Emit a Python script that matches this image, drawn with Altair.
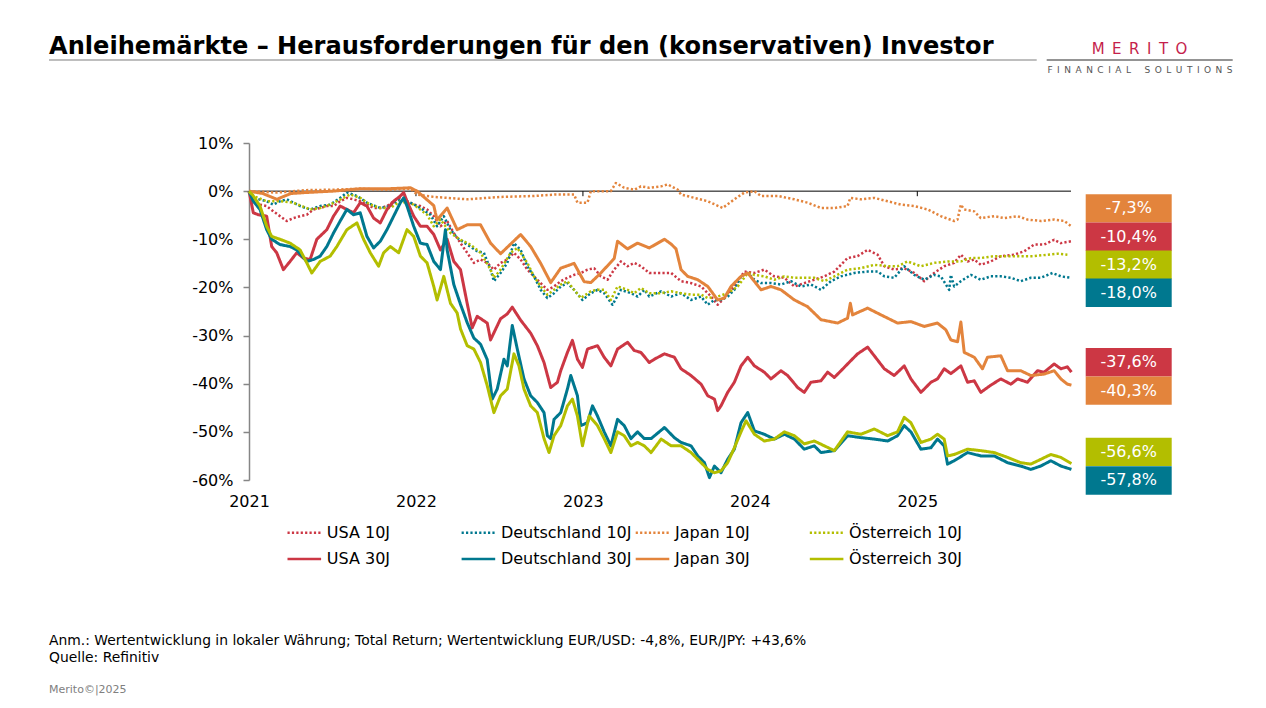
import altair as alt
import pandas as pd

# ---------------- data (months since Jan 2021, total return in %) ----------------
SERIES = ["USA 10J", "Deutschland 10J", "Japan 10J", "Österreich 10J",
          "USA 30J", "Deutschland 30J", "Japan 30J", "Österreich 30J"]
COLORS = ["#CC3744", "#00788F", "#E3843C", "#B3BE00",
          "#CC3744", "#00788F", "#E3843C", "#B3BE00"]

US10 = [(0, 0), (0.31, -1.7), (0.79, -2.8), (1.27, -3.1), (1.75, -4.2), (2.23, -5.2), (2.71, -6.2),
        (3.19, -5.6), (3.67, -5.2), (4.15, -4.9), (4.63, -3.8), (5.11, -3.5), (5.59, -3.1), (6.07, -3.1),
        (6.55, -2.1), (7.03, -1.4), (7.51, -1.7), (7.99, -2.1), (8.47, -2.8), (8.95, -3.5), (9.43, -3.5),
        (9.91, -3.1), (10.39, -2.1), (10.87, -1.4), (11.35, -2.1), (11.83, -2.8), (12.31, -3.1),
        (12.79, -3.8), (13.27, -5.2), (13.75, -7.3), (14.23, -6.2), (14.71, -8.7), (15.19, -10.8),
        (15.67, -12.8), (16.15, -14.9), (16.63, -14.2), (17.11, -14.9), (17.59, -16.3), (18.07, -14.9),
        (18.55, -14.2), (19.03, -12.8), (19.51, -14.2), (19.99, -16.3), (20.47, -17.7), (20.95, -19.1),
        (21.43, -20.5), (21.91, -19.8), (22.39, -18.7), (22.87, -18.0), (23.35, -17.4), (23.83, -17.0),
        (24.31, -16.3), (24.79, -16.0), (25.27, -17.7), (25.75, -18.4), (26.23, -16.3), (26.71, -14.6),
        (27.19, -15.6), (27.67, -14.9), (28.15, -15.6), (28.75, -17.0), (29.6, -17.0), (30.32, -17.0),
        (31.03, -18.7), (31.75, -19.1), (32.47, -19.8), (33.19, -21.9), (33.66, -23.6), (34.14, -22.2),
        (34.86, -19.8), (35.58, -16.7), (36.3, -17.0), (37.01, -16.3), (37.73, -17.7), (38.45, -18.0),
        (39.17, -19.8), (39.88, -19.1), (40.6, -18.4), (41.32, -17.7), (42.04, -16.7), (42.99, -13.9),
        (43.71, -13.5), (44.43, -12.2), (45.15, -13.2), (45.63, -15.6), (46.34, -16.3), (47.06, -16.0),
        (47.78, -17.0), (48.5, -18.7), (49.21, -17.0), (49.93, -15.6), (50.65, -14.9), (51.13, -13.2),
        (51.61, -14.6), (52.09, -14.2), (52.56, -15.3), (53.28, -14.6), (54.0, -13.5), (54.96, -13.2),
        (55.67, -12.5), (56.39, -11.1), (57.11, -11.1), (57.83, -10.1), (58.31, -10.8), (59.07, -10.4)]

DE10 = [(0, 0), (0.31, -1.4), (1.27, -2.1), (1.75, -2.8), (2.23, -2.1), (2.71, -1.7), (3.19, -2.4),
        (3.67, -3.1), (4.39, -3.8), (5.11, -3.1), (5.83, -2.8), (6.55, -1.4), (7.03, -0.3), (7.75, -1.0),
        (8.47, -2.4), (9.43, -3.5), (10.15, -3.1), (10.87, -1.7), (11.59, -2.4), (12.31, -3.5),
        (13.03, -4.9), (13.51, -7.3), (13.99, -5.2), (14.47, -8.0), (14.95, -9.7), (15.67, -11.1),
        (16.39, -12.5), (16.87, -12.8), (17.35, -16.3), (17.59, -18.7), (18.07, -17.0), (18.55, -14.9),
        (19.03, -10.8), (19.51, -12.2), (19.99, -15.6), (20.47, -17.7), (20.95, -20.5), (21.43, -22.2),
        (21.91, -21.2), (22.39, -19.8), (22.87, -19.1), (23.35, -20.5), (23.95, -22.6), (24.55, -21.2),
        (25.03, -20.5), (25.51, -21.2), (26.11, -23.6), (26.71, -20.5), (27.43, -21.2), (27.91, -21.9),
        (28.39, -20.5), (28.75, -21.9), (29.6, -20.8), (30.32, -21.9), (31.03, -21.2), (31.75, -22.6),
        (32.47, -21.9), (32.95, -23.6), (33.43, -22.6), (33.9, -22.6), (34.38, -21.9), (34.86, -20.5),
        (35.34, -17.7), (35.82, -17.0), (36.3, -18.4), (36.78, -19.1), (37.49, -19.1), (38.21, -19.4),
        (38.93, -18.7), (39.65, -19.8), (40.36, -19.4), (41.08, -20.5), (41.8, -18.7), (42.52, -17.7),
        (43.47, -17.0), (44.43, -16.7), (45.15, -16.7), (45.63, -17.7), (46.34, -18.0), (47.06, -15.6),
        (47.78, -17.4), (48.5, -18.4), (49.21, -17.4), (49.69, -17.7), (50.29, -20.5), (50.41, -17.4),
        (50.65, -19.8), (51.13, -18.7), (51.85, -17.4), (52.56, -18.4), (53.28, -17.7), (54.0, -17.7),
        (54.72, -18.0), (55.43, -18.7), (56.15, -18.0), (56.87, -18.0), (57.71, -17.0), (58.31, -17.7),
        (59.07, -18.0)]

JP10 = [(0, 0), (2, -0.3), (4, 0.2), (6, 0.3), (8, 0.5), (10, 0.3), (11.6, 0.5), (12.07, -0.7),
        (13.27, -1.2), (15.67, -1.7), (18.07, -1.2), (20.47, -1.0), (22.0, -0.7), (23.35, -0.7),
        (23.59, -2.4), (24.31, -2.4), (24.55, 0.0), (25.99, 0.0), (26.35, 1.7), (26.95, 0.7),
        (27.67, 0.3), (28.15, 1.0), (28.75, 0.7), (29.6, 1.0), (30.08, 1.4), (30.79, 0.3), (31.03, -0.7),
        (31.99, -1.4), (32.95, -2.1), (34.02, -3.5), (34.86, -1.7), (35.58, -0.3), (36.3, 0.0),
        (36.78, -1.0), (37.97, -1.0), (39.17, -1.7), (40.12, -2.4), (41.08, -3.5), (42.04, -3.5),
        (42.99, -3.1), (43.19, -1.4), (43.95, -1.7), (44.91, -1.4), (45.87, -2.1), (46.82, -2.8),
        (47.78, -3.1), (48.74, -3.8), (49.69, -5.2), (50.65, -6.2), (50.89, -5.9), (51.13, -2.8),
        (51.37, -3.8), (52.09, -4.2), (52.56, -5.6), (53.52, -5.2), (54.24, -5.6), (55.2, -5.2),
        (55.91, -5.9), (56.87, -6.2), (57.83, -5.9), (58.55, -6.2), (59.07, -7.3)]

AT10 = [(0, 0), (0.31, -1.0), (1.27, -2.1), (2.23, -2.1), (3.19, -2.4), (4.39, -3.8), (5.11, -3.5),
        (5.83, -2.8), (6.79, -1.4), (7.27, -0.7), (7.99, -1.4), (8.71, -2.8), (9.43, -3.5), (10.15, -3.5),
        (10.87, -2.1), (11.83, -2.8), (12.79, -4.9), (13.27, -7.3), (13.75, -5.9), (14.47, -8.7),
        (15.19, -10.1), (15.91, -11.1), (16.63, -12.8), (17.35, -16.3), (17.59, -18.0), (18.07, -16.3),
        (18.79, -12.8), (19.27, -11.8), (19.99, -14.9), (20.47, -17.7), (20.95, -19.8), (21.43, -21.5),
        (21.91, -20.5), (22.39, -19.4), (22.87, -18.7), (23.35, -20.5), (23.83, -22.2), (24.55, -20.8),
        (25.03, -20.5), (25.51, -20.5), (25.99, -22.6), (26.47, -19.8), (27.19, -20.5), (27.67, -21.2),
        (28.15, -20.1), (28.75, -21.2), (29.6, -21.2), (30.32, -20.8), (31.03, -21.2), (31.75, -21.5),
        (32.47, -21.5), (32.95, -22.2), (33.66, -21.9), (34.38, -21.2), (35.1, -19.8), (35.82, -17.0),
        (36.3, -17.4), (37.01, -17.7), (37.73, -18.4), (38.45, -17.7), (39.17, -18.0), (39.88, -18.0),
        (40.6, -18.0), (41.32, -18.7), (42.04, -17.7), (42.99, -16.3), (43.95, -16.0), (44.91, -15.3),
        (45.87, -15.6), (46.58, -15.6), (47.3, -14.6), (48.26, -15.6), (49.21, -14.9), (50.17, -14.6),
        (51.13, -14.6), (51.85, -13.9), (52.56, -13.9), (53.52, -13.5), (54.48, -13.5), (55.43, -13.5),
        (56.39, -13.5), (57.35, -13.2), (58.07, -13.0), (58.78, -13.2)]

US30 = [(0, 0), (0.31, -4.5), (0.67, -4.9), (1.27, -5.2), (1.63, -11.5), (1.99, -12.8), (2.47, -16.3),
        (2.95, -14.6), (3.43, -12.8), (3.91, -13.9), (4.39, -14.2), (4.87, -10.0), (5.59, -8.0),
        (6.07, -5.2), (6.55, -3.1), (7.03, -3.8), (7.51, -4.5), (7.99, -2.4), (8.47, -3.1), (8.95, -5.6),
        (9.43, -6.6), (9.91, -3.8), (10.39, -2.1), (10.87, -1.0), (11.11, -0.3), (11.35, -2.1),
        (11.83, -5.2), (12.31, -7.3), (12.79, -7.3), (13.27, -9.0), (13.75, -12.2), (14.23, -10.0),
        (14.71, -14.6), (15.19, -16.3), (15.67, -23.3), (16.03, -28.4), (16.39, -26.0), (17.11, -27.4),
        (17.35, -30.9), (18.07, -26.5), (18.55, -25.5), (18.91, -24.1), (19.51, -26.8), (20.23, -29.5),
        (20.71, -32.1), (21.19, -35.6), (21.67, -40.8), (22.15, -39.7), (22.39, -37.3), (22.87, -33.5),
        (23.23, -31.0), (23.59, -34.9), (23.95, -36.6), (24.31, -32.8), (25.03, -32.1), (25.51, -34.5),
        (25.99, -36.3), (26.47, -32.8), (27.19, -31.4), (27.67, -33.1), (28.15, -33.5), (28.75, -35.6),
        (29.12, -34.9), (29.84, -33.8), (30.55, -34.5), (31.03, -36.9), (31.75, -38.3), (32.47, -40.1),
        (32.95, -42.5), (33.43, -43.2), (33.66, -45.6), (33.9, -44.6), (34.38, -41.8), (34.86, -39.7),
        (35.34, -36.3), (35.82, -34.5), (36.3, -36.3), (37.01, -37.6), (37.49, -39.0), (38.21, -37.3),
        (38.69, -38.3), (39.41, -40.8), (39.88, -41.8), (40.36, -39.7), (41.08, -39.4), (41.56, -37.6),
        (42.04, -38.7), (42.52, -37.3), (43.23, -35.2), (43.71, -33.8), (44.43, -32.4), (44.91, -34.2),
        (45.63, -36.9), (46.34, -38.3), (47.06, -36.3), (47.54, -39.0), (48.26, -41.8), (48.98, -39.7),
        (49.45, -39.0), (49.93, -36.9), (50.41, -37.9), (51.13, -36.3), (51.61, -39.7), (52.09, -39.4),
        (52.56, -41.8), (53.28, -40.3), (54.0, -39.0), (54.72, -40.1), (55.2, -39.0), (55.91, -39.7),
        (56.63, -37.3), (57.11, -37.6), (57.83, -35.9), (58.31, -36.9), (58.78, -36.5), (59.07, -37.6)]

DE30 = [(0, 0), (0.31, -2.1), (0.79, -3.8), (1.27, -8.0), (1.63, -10.0), (2.23, -11.1), (2.95, -11.5),
        (3.43, -12.2), (4.15, -14.6), (4.63, -14.2), (5.11, -13.5), (5.59, -11.5), (6.07, -8.7),
        (6.55, -6.2), (7.03, -3.8), (7.51, -4.9), (7.99, -4.5), (8.47, -9.4), (8.95, -11.8),
        (9.43, -10.4), (9.91, -8.0), (10.39, -5.2), (10.87, -2.4), (11.11, -1.4), (11.35, -3.1),
        (11.83, -7.3), (12.31, -10.8), (12.79, -11.1), (13.27, -14.6), (13.75, -16.3), (14.11, -8.0),
        (14.23, -12.2), (14.71, -19.4), (15.19, -23.5), (15.67, -27.3), (16.15, -30.5), (16.63, -31.8),
        (17.11, -35.0), (17.47, -43.2), (17.83, -41.1), (18.31, -34.9), (18.55, -36.3), (18.91, -27.9),
        (19.27, -32.8), (19.75, -39.0), (20.23, -42.5), (20.71, -43.9), (21.19, -46.0), (21.43, -50.8),
        (21.67, -51.4), (21.91, -47.4), (22.39, -46.0), (22.87, -41.1), (23.11, -38.3), (23.59, -42.5),
        (23.83, -48.7), (24.31, -48.1), (24.67, -44.6), (25.03, -46.7), (25.51, -50.0), (25.99, -52.9),
        (26.47, -47.4), (26.95, -48.7), (27.43, -51.4), (27.91, -50.0), (28.39, -51.4), (28.88, -51.4),
        (29.84, -49.1), (30.55, -51.2), (31.03, -52.2), (31.75, -52.9), (32.23, -55.0), (32.71, -56.4),
        (33.07, -59.5), (33.43, -57.1), (33.9, -58.5), (34.38, -55.7), (34.86, -53.6), (35.34, -48.1),
        (35.82, -46.0), (36.3, -49.8), (37.01, -50.5), (37.73, -51.5), (38.45, -50.5), (39.17, -51.5),
        (39.88, -53.6), (40.6, -52.9), (41.08, -54.3), (42.04, -53.9), (42.99, -50.8), (43.95, -51.2),
        (44.91, -51.5), (45.87, -51.9), (46.58, -50.8), (47.06, -48.7), (47.54, -50.0), (48.26, -53.6),
        (48.98, -53.3), (49.45, -51.5), (49.93, -52.9), (50.17, -56.7), (50.65, -56.0), (51.61, -54.3),
        (52.56, -55.0), (53.52, -55.0), (54.48, -56.4), (55.43, -57.1), (56.15, -57.8), (56.87, -57.1),
        (57.59, -56.0), (58.31, -57.1), (59.07, -57.8)]

JP30 = [(0, 0), (1, -0.5), (2, -1.7), (3, -0.5), (4, -0.3), (6, 0.0), (8, 0.5), (10, 0.5), (11.6, 0.7),
        (12.07, 0.0), (13.27, -3.0), (13.51, -6.0), (14.23, -3.5), (14.95, -8.0), (15.67, -7.0),
        (16.63, -7.0), (17.35, -10.8), (18.07, -13.0), (18.79, -11.0), (19.51, -9.0), (20.23, -11.5),
        (20.95, -15.0), (21.67, -19.0), (22.39, -16.0), (23.35, -15.0), (24.07, -18.8), (24.55, -19.0),
        (25.27, -17.0), (26.23, -14.0), (26.47, -10.4), (27.19, -12.0), (27.91, -10.8), (28.75, -11.8),
        (29.84, -10.0), (30.32, -11.0), (30.67, -12.0), (31.03, -16.3), (31.51, -17.7), (32.23, -18.4),
        (32.95, -19.8), (33.66, -22.6), (34.14, -22.2), (34.62, -19.8), (35.34, -17.7), (35.82, -17.0),
        (36.78, -20.5), (37.49, -19.8), (38.21, -20.5), (39.17, -22.6), (40.12, -24.0), (41.08, -26.7),
        (42.28, -27.4), (42.99, -26.4), (43.19, -23.3), (43.35, -25.7), (44.43, -24.3), (45.39, -25.7),
        (46.58, -27.4), (47.54, -27.1), (48.5, -28.1), (49.45, -27.4), (50.05, -28.8), (50.41, -30.9),
        (50.89, -31.3), (51.13, -27.2), (51.37, -33.5), (52.09, -34.5), (52.68, -36.9), (53.04, -34.5),
        (54.0, -34.2), (54.48, -37.3), (55.43, -37.3), (56.15, -38.3), (57.11, -38.0), (57.83, -37.3),
        (58.31, -39.0), (58.78, -40.1), (59.07, -40.3)]

AT30 = [(0, 0), (0.31, -1.0), (0.79, -3.1), (1.27, -7.3), (1.63, -9.4), (2.23, -10.0), (2.95, -10.8),
        (3.67, -12.2), (4.15, -14.9), (4.51, -17.0), (5.11, -14.6), (5.83, -13.5), (6.31, -11.5),
        (7.03, -8.0), (7.75, -6.6), (8.23, -10.0), (8.71, -12.8), (9.31, -15.6), (9.67, -12.8),
        (10.15, -11.5), (10.75, -12.8), (11.35, -8.0), (11.83, -9.4), (12.31, -13.5), (12.79, -14.9),
        (13.27, -19.8), (13.51, -22.6), (13.99, -17.7), (14.47, -23.3), (14.95, -25.3), (15.19, -28.6),
        (15.67, -32.1), (16.15, -32.8), (16.63, -35.6), (17.11, -40.4), (17.59, -46.0), (18.07, -42.5),
        (18.55, -41.1), (19.03, -33.8), (19.39, -36.3), (19.75, -41.1), (20.23, -44.6), (20.71, -46.0),
        (21.19, -51.4), (21.55, -54.3), (21.91, -50.8), (22.39, -48.7), (22.87, -44.6), (23.23, -43.2),
        (23.59, -46.7), (23.95, -52.9), (24.43, -46.7), (25.03, -48.7), (25.51, -51.4), (25.99, -54.3),
        (26.47, -50.0), (26.95, -50.8), (27.43, -52.9), (27.91, -52.2), (28.39, -52.9), (28.88, -54.3),
        (29.6, -51.5), (30.32, -52.9), (31.03, -52.9), (31.75, -54.3), (32.47, -56.4), (32.95, -57.8),
        (33.43, -58.5), (33.9, -58.1), (34.38, -56.4), (34.86, -53.3), (35.34, -50.0), (35.7, -47.7),
        (36.3, -50.5), (37.01, -51.9), (37.73, -51.5), (38.45, -50.0), (39.17, -50.8), (39.88, -52.5),
        (40.6, -51.9), (41.32, -52.9), (42.04, -53.9), (42.99, -50.0), (43.95, -50.5), (44.91, -49.4),
        (45.87, -50.8), (46.58, -50.0), (47.06, -47.0), (47.54, -48.1), (48.26, -52.2), (48.98, -51.5),
        (49.45, -50.5), (49.93, -51.5), (50.17, -55.0), (50.65, -54.7), (51.61, -53.6), (52.56, -53.9),
        (53.52, -54.3), (54.48, -55.3), (55.43, -56.4), (56.15, -56.7), (56.87, -55.7), (57.59, -54.7),
        (58.31, -55.3), (59.07, -56.6)]

DATA = {"USA 10J": US10, "Deutschland 10J": DE10, "Japan 10J": JP10, "Österreich 10J": AT10,
        "USA 30J": US30, "Deutschland 30J": DE30, "Japan 30J": JP30, "Österreich 30J": AT30}

# end-value labels (text, box colour, slot centre in % units)
END_TEXT = ["-7,3%", "-10,4%", "-13,2%", "-18,0%", "-37,6%", "-40,3%", "-56,6%", "-57,8%"]
END_COLOR = ["#E3843C", "#CC3744", "#B3BE00", "#00788F", "#CC3744", "#E3843C", "#B3BE00", "#00788F"]
END_SLOT = [-3.59, -9.47, -15.29, -21.1, -35.54, -41.44, -54.17, -60.1]
BOX_H = 5.88

YEAR_TICKS = [2022, 2023, 2024, 2025]

TITLE = "Anleihemärkte – Herausforderungen für den (konservativen) Investor"
NOTE1 = "Anm.: Wertentwicklung in lokaler Währung; Total Return; Wertentwicklung EUR/USD: -4,8%, EUR/JPY: +43,6%"
NOTE2 = "Quelle: Refinitiv"
NOTE3 = "Merito©|2025"

# ---------------- build tables ----------------
BASE = pd.Timestamp("2021-01-01")


def to_date(t):
    return (BASE + pd.Timedelta(days=t * 30.4375)).strftime("%Y-%m-%dT%H:%M:%S")


rows = []
for s in SERIES:
    for t, v in DATA[s]:
        rows.append({"Serie": s, "Datum": to_date(t), "Wert": v})
df = pd.DataFrame(rows)

df_lab = pd.DataFrame({"text": END_TEXT, "farbe": END_COLOR, "mitte": END_SLOT})
df_lab["oben"] = df_lab["mitte"] + BOX_H / 2
df_lab["unten"] = df_lab["mitte"] - BOX_H / 2

df_years = pd.DataFrame({"d": [f"{y}-01-01T00:00:00" for y in YEAR_TICKS]})
df_years["z"] = 0.0
df_years["z2"] = -1.05

FONT = "DejaVu Sans"

x_scale = alt.Scale(domain=[alt.DateTime(year=2021, month=1, date=1),
                            alt.DateTime(year=2025, month=12, date=3)])
y_scale = alt.Scale(domain=[-60, 10], nice=False, zero=False)
color_scale = alt.Scale(domain=SERIES, range=COLORS)
dash_scale = alt.Scale(domain=SERIES, range=[[2.2, 2.2]] * 4 + [[1, 0]] * 4)

x_axis = alt.Axis(format="%Y", tickCount="year", domain=False, ticks=False, tickSize=0,
                  labelPadding=13, labelFontSize=16, labelFont=FONT, labelColor="black",
                  labelFlush=False, grid=False, title=None)
y_axis = alt.Axis(values=[-60, -50, -40, -30, -20, -10, 0, 10], labelExpr="datum.value + '%'",
                  tickSize=6, labelPadding=10, domainColor="#868686", tickColor="#868686",
                  domainWidth=1.5, tickWidth=1.5, grid=False, title=None,
                  labelFontSize=16, labelFont=FONT, labelColor="black")

legend = alt.Legend(orient="none", legendX=41.8, legendY=376, direction="horizontal", columns=4,
                    title=None, symbolType="M-1.4,0H1.4", symbolSize=576, symbolStrokeWidth=2.5,
                    labelFontSize=16, labelFont=FONT, labelColor="black", labelOffset=9,
                    columnPadding=-1.9, rowPadding=4.5, gridAlign="all", padding=0, labelLimit=300)


def Y(field):
    return alt.Y(field, scale=y_scale, axis=y_axis)


def X(field):
    return alt.X(field, scale=x_scale, axis=x_axis)


layers = []

# zero line and year ticks
layers.append(alt.Chart(pd.DataFrame({"z": [0.0]})).mark_rule(color="black", strokeWidth=1)
              .encode(y=Y("z:Q")))
layers.append(alt.Chart(df_years).mark_rule(color="black", strokeWidth=1)
              .encode(x=X("d:T"), y=Y("z:Q"), y2="z2:Q"))

for s in SERIES:
    dotted = s.endswith("10J")
    layers.append(
        alt.Chart(df).transform_filter(alt.datum.Serie == s)
        .mark_line(strokeWidth=2.5 if dotted else 3, strokeJoin="round")
        .encode(x=X("Datum:T"), y=Y("Wert:Q"),
                color=alt.Color("Serie:N", scale=color_scale, legend=legend),
                strokeDash=alt.StrokeDash("Serie:N", scale=dash_scale, legend=legend))
    )

# end-value boxes
layers.append(alt.Chart(df_lab).mark_rect()
              .encode(x=alt.value(836.7), x2=alt.value(922.7),
                      y=Y("oben:Q"), y2="unten:Q",
                      fill=alt.Fill("farbe:N", scale=None)))
layers.append(alt.Chart(df_lab).mark_text(color="white", fontSize=16, font=FONT,
                                          align="center", baseline="middle")
              .encode(x=alt.value(879.7), y=Y("mitte:Q"), text="text:N"))


def deco_text(txt, x, y, **kw):
    return alt.Chart(pd.DataFrame({"t": [txt]})).mark_text(baseline="alphabetic", **kw).encode(
        x=alt.value(x), y=alt.value(y), text="t:N")


def deco_rule(x1, x2, y, **kw):
    return alt.Chart(pd.DataFrame({"t": [0]})).mark_rule(**kw).encode(
        x=alt.value(x1), x2=alt.value(x2), y=alt.value(y))


layers.append(deco_text(TITLE, -200, -88.7, align="left", font=FONT, fontSize=24.1,
                        fontWeight="bold", color="black"))
layers.append(deco_rule(-200, 787.7, -83, color="#A8A8A8", strokeWidth=1.5))
layers.append(deco_rule(797.7, 983.7, -83, color="#707070", strokeWidth=1.5))
layers.append(deco_text("M\u2002E\u2002R\u2002I\u2002T\u2002O", 890.5, -89, align="center",
                        font=FONT, fontSize=15, color="#C51F4C"))
layers.append(deco_text("F\u2002I\u2002N\u2002A\u2002N\u2002C\u2002I\u2002A\u2002L\u2002\u2002\u2002"
                        "S\u2002O\u2002L\u2002U\u2002T\u2002I\u2002O\u2002N\u2002S",
                        891, -70.3, align="center", font=FONT, fontSize=9, color="#555555"))
layers.append(deco_text(NOTE1, -200, 502, align="left", font=FONT, fontSize=13.9, color="black"))
layers.append(deco_text(NOTE2, -200, 519, align="left", font=FONT, fontSize=13.9, color="black"))
layers.append(deco_text(NOTE3, -200, 550, align="left", font=FONT, fontSize=11, color="#808080"))

chart = alt.layer(*layers).properties(
    width=822, height=337,
    autosize=alt.AutoSizeParams(type="none"),
    padding={"left": 241, "top": 135, "right": 187, "bottom": 220},
    background="white",
).configure_view(stroke=None)

chart.save("out.html", embed_options={"renderer": "svg", "actions": False})
